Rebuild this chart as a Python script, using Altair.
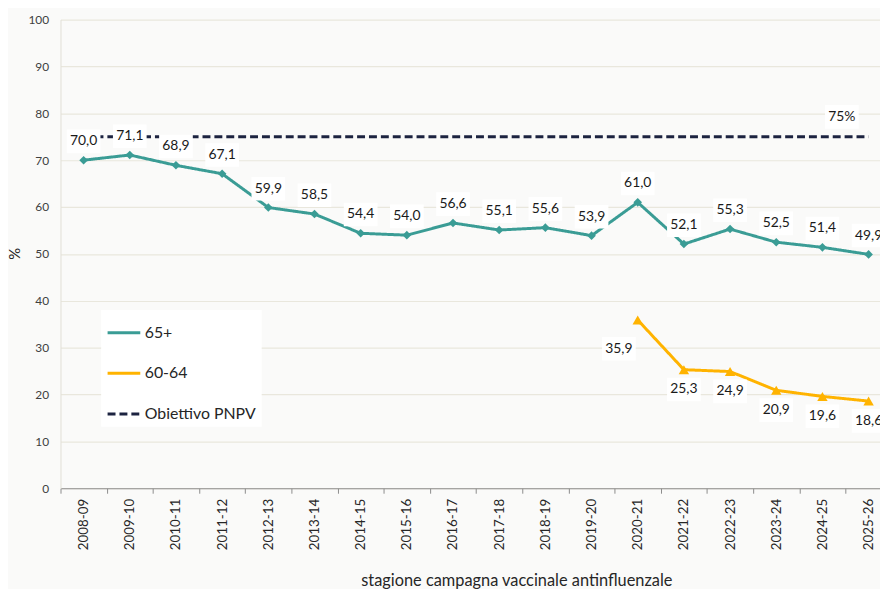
import altair as alt
import pandas as pd

# ---------------- data ----------------
seasons = ["2008-09", "2009-10", "2010-11", "2011-12", "2012-13", "2013-14",
           "2014-15", "2015-16", "2016-17", "2017-18", "2018-19", "2019-20",
           "2020-21", "2021-22", "2022-23", "2023-24", "2024-25", "2025-26"]
v65 = [70.0, 71.1, 68.9, 67.1, 59.9, 58.5, 54.4, 54.0, 56.6, 55.1, 55.6, 53.9,
       61.0, 52.1, 55.3, 52.5, 51.4, 49.9]
v6064 = [None] * 12 + [35.9, 25.3, 24.9, 20.9, 19.6, 18.6]
target_value = 75
target_label = "75%"
series_names = ["65+", "60-64", "Obiettivo PNPV"]
series_colors = ["#3a9c95", "#ffb300", "#1c2340"]

rows = []
for i, s in enumerate(seasons):
    rows.append(dict(idx=i, season=s, series="65+", value=v65[i]))
    if v6064[i] is not None:
        rows.append(dict(idx=i, season=s, series="60-64", value=v6064[i]))
    rows.append(dict(idx=i, season=s, series="Obiettivo PNPV", value=target_value))
df = pd.DataFrame(rows)
df["label"] = df["value"].map(lambda v: f"{v:.1f}".replace(".", ","))
df.loc[(df.series == "Obiettivo PNPV") & (df.idx == len(seasons) - 1), "label"] = target_label
first60 = min(i for i, v in enumerate(v6064) if v is not None)

# ---------------- layout ----------------
FONT = "Lato"
STEP = 46.6
PAD_L, PAD_T, PAD_B = 53, 9, 99
W, H = 827, 473
XMAX = -0.5 + W / STEP

label_expr = "[" + ",".join(f"'{s}'" for s in seasons) + "][datum.value]"

x_enc = alt.X(
    "idx:Q",
    scale=alt.Scale(domain=[-0.5, XMAX], nice=False, zero=False),
    axis=alt.Axis(
        values=list(range(len(seasons))), labelExpr=label_expr,
        labelAngle=-90, labelFlush=False, labelOverlap=False,
        tickOffset=-STEP / 2, labelOffset=STEP / 2,
        ticks=True, tickSize=5, tickColor="#8c8c8c", domainColor="#8c8c8c",
        grid=False, labelFont=FONT, labelFontSize=13.5, labelColor="#262626",
        labelPadding=5,
        title="stagione campagna vaccinale antinfluenzale",
        titleFont=FONT, titleFontSize=16.5, titleFontWeight="normal",
        titleColor="#262626", titleX=460, titleY=98, titleBaseline="alphabetic",
    ),
)
y_enc = alt.Y(
    "value:Q",
    scale=alt.Scale(domain=[0, 100], nice=False),
    axis=alt.Axis(
        values=list(range(0, 101, 10)), grid=True, gridColor="#e9e7dd",
        gridWidth=1.2, domainColor="#e2e0d6", ticks=False, labelPadding=12,
        labelFont=FONT, labelFontSize=12, labelColor="#404040",
        title="%", titleFont=FONT, titleFontSize=15, titleFontWeight="normal",
        titleColor="#262626", titleX=-46, titleY=236, titleBaseline="middle",
        titleAlign="center",
    ),
)

legend_props = dict(
    title=None, orient="none", legendX=41, legendY=293, fillColor="white",
    padding=5, symbolType="stroke", symbolSize=1089, symbolStrokeWidth=3,
    labelFont=FONT, labelFontSize=16, labelColor="#262626", rowPadding=15,
    labelOffset=3,
)

base = alt.Chart(df)

lines = base.mark_line(strokeWidth=3).encode(
    x=x_enc, y=y_enc,
    color=alt.Color("series:N", scale=alt.Scale(domain=series_names, range=series_colors),
                    legend=alt.Legend(**legend_props)),
    strokeDash=alt.StrokeDash("series:N",
                              scale=alt.Scale(domain=series_names,
                                              range=[[1, 0], [1, 0], [8, 4]]),
                              legend=alt.Legend(**legend_props)),
    order="idx:Q",
)

pts65 = base.mark_point(shape="diamond", filled=True, size=75, opacity=1,
                        color=series_colors[0]).encode(x=x_enc, y=y_enc).transform_filter(
    alt.datum.series == "65+")
pts60 = base.mark_point(shape="triangle-up", filled=True, size=110, opacity=1,
                        color=series_colors[1]).encode(x=x_enc, y=y_enc).transform_filter(
    alt.datum.series == "60-64")

BOX = "M-1,-0.7H1V0.7H-1Z"


def box(filt, xo=0, yo=0):
    return base.mark_point(shape=BOX, filled=True, color="white", opacity=1,
                           size=34 * 34, xOffset=xo, yOffset=yo).encode(
        x=x_enc, y=y_enc).transform_filter(filt)


def txt(filt, dx=0, dy=0):
    return base.mark_text(font=FONT, fontSize=14, color="#1a1a1a", dx=dx, dy=dy).encode(
        x=x_enc, y=y_enc, text="label:N").transform_filter(filt)


f65 = alt.datum.series == "65+"
f60a = (alt.datum.series == "60-64") & (alt.datum.idx == first60)
f60b = (alt.datum.series == "60-64") & (alt.datum.idx != first60)
ftg = (alt.datum.series == "Obiettivo PNPV") & (alt.datum.idx == len(seasons) - 1)

chart = alt.layer(
    lines, pts65, pts60,
    box(f65, 0, -19), box(f60a, -19, 29), box(f60b, 0, 20), box(ftg, -27, -20),
    txt(f65, 0, -19), txt(f60a, -19, 29), txt(f60b, 0, 20), txt(ftg, -27, -20),
).properties(
    width=W, height=H,
    autosize=alt.AutoSizeParams(type="none"),
    padding={"left": PAD_L, "top": PAD_T, "right": 0, "bottom": PAD_B},
    background="#fafaf9",
).configure_view(stroke=None)

chart.save("out.html", embed_options={"renderer": "svg", "actions": False})
